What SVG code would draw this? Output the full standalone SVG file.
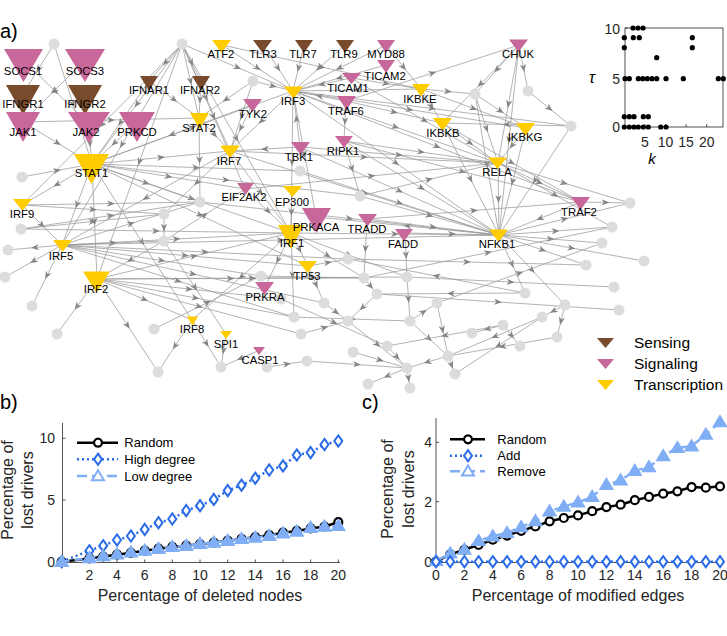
<svg xmlns="http://www.w3.org/2000/svg" width="727" height="636" viewBox="0 0 727 636">
<defs>
<style>
.e{fill:none;stroke:#9a9a9a;stroke-width:.75;marker-mid:url(#ah)}
.g{fill:#dcdcdc}
.se{fill:#784B2D}.si{fill:#C8679A}.tr{fill:#FFCC00}
text{font-family:"Liberation Sans",Arial,Helvetica,sans-serif}
.nl{font-size:11.3px;text-anchor:middle;fill:#000}
.ax{stroke:#262626;stroke-width:.8;fill:none}
.tk{font-size:14px;fill:#262626}
.lab{font-size:16px;fill:#262626;text-anchor:middle}
.lg{font-size:13px;fill:#000}
.pl{font-size:20px;fill:#000}
.lgd{font-size:15.5px;fill:#000}
.rnd{fill:none;stroke:#000;stroke-width:2.5;marker-start:url(#mo);marker-mid:url(#mo);marker-end:url(#mo)}
.hi{fill:none;stroke:#2A6CE8;stroke-width:2.5;stroke-dasharray:2 3;marker-start:url(#md);marker-mid:url(#md);marker-end:url(#md)}
.lo{fill:none;stroke:#80AEF5;stroke-width:2.5;stroke-dasharray:8 5;marker-start:url(#mt);marker-mid:url(#mt);marker-end:url(#mt)}
.dot{fill:#000}
</style>
<marker id="ah" viewBox="0 0 10 8" refX="5" refY="4" markerWidth="8" markerHeight="6.4" markerUnits="userSpaceOnUse" orient="auto"><path d="M0,0L10,4L0,8L3,4z" fill="#858585"/></marker>
<marker id="mo" viewBox="-7 -7 14 14" refX="0" refY="0" markerWidth="14" markerHeight="14" markerUnits="userSpaceOnUse" orient="0"><circle r="4" fill="#fff" stroke="#000" stroke-width="2.2"/></marker>
<marker id="md" viewBox="-8 -8 16 16" refX="0" refY="0" markerWidth="16" markerHeight="16" markerUnits="userSpaceOnUse" orient="0"><path d="M0,-5.6L4,0L0,5.6L-4,0Z" fill="#fff" stroke="#2A6CE8" stroke-width="2"/></marker>
<marker id="mt" viewBox="-8 -8 16 16" refX="0" refY="0" markerWidth="16" markerHeight="16" markerUnits="userSpaceOnUse" orient="0"><path d="M0,-5.8L6,4.2L-6,4.2Z" fill="#80AEF5" stroke="#80AEF5" stroke-width="2"/></marker>
<path id="lgo" d="M0,-4a4,4 0 1,0 0.01,0z" fill="#fff" stroke="#000" stroke-width="2.2"/>
</defs>
<rect width="727" height="636" fill="#fff"/>
<text class="pl" x="0" y="38">a)</text>

<g id="connectors">
<path class="e" d="M54 44L38.5 69L23 94"/>
<path class="e" d="M54 44L73 104L92 164"/>
<path class="e" d="M23 60L55.5 91.5L88 123"/>
<path class="e" d="M85 60L54 91L23 122"/>
<path class="e" d="M23 122L57.5 143L92 164"/>
<path class="e" d="M23 122L111 120L199 118"/>
<path class="e" d="M88 123L90 143.5L92 164"/>
<path class="e" d="M137 122L114.5 143L92 164"/>
<path class="e" d="M182 44L165.5 62.5L149 81"/>
<path class="e" d="M182 44L191.5 62.5L201 81"/>
<path class="e" d="M182 44L190.5 81L199 118"/>
<path class="e" d="M182 44L137 104L92 164"/>
<path class="e" d="M182 44L206 97.5L230 151"/>
<path class="e" d="M182 44L122 144.5L62 245"/>
<path class="e" d="M182 44L139.5 161.5L97 279"/>
<path class="e" d="M182 44L213.5 116.5L245 189"/>
<path class="e" d="M182 44L236.5 138.5L291 233"/>
<path class="e" d="M182 44L102 124.5L22 205"/>
<path class="e" d="M182 44L237.5 67.5L293 91"/>
<path class="e" d="M149 81L120.5 122.5L92 164"/>
<path class="e" d="M149 81L174 99.5L199 118"/>
<path class="e" d="M201 81L200 99.5L199 118"/>
<path class="e" d="M199 118L199.5 160L200 202"/>
<path class="e" d="M199 118L214.5 134.5L230 151"/>
<path class="e" d="M92 164L191.5 198.5L291 233"/>
<path class="e" d="M92 164L161 157.5L230 151"/>
<path class="e" d="M92 164L57 184.5L22 205"/>
<path class="e" d="M92 164L77 204.5L62 245"/>
<path class="e" d="M92 164L94.5 221.5L97 279"/>
<path class="e" d="M92 164L168.5 176.5L245 189"/>
<path class="e" d="M92 164L146 183L200 202"/>
<path class="e" d="M92 164L142 242L192 320"/>
<path class="e" d="M92 164L192.5 127.5L293 91"/>
<path class="e" d="M22 177L57 170.5L92 164"/>
<path class="e" d="M92 164L196 167.5L300 171"/>
<path class="e" d="M92 164L200 215L308 266"/>
<path class="e" d="M92 164L226 180L360 196"/>
<path class="e" d="M222 45L257.5 68L293 91"/>
<path class="e" d="M263 45L278 68L293 91"/>
<path class="e" d="M304 45L298.5 68L293 91"/>
<path class="e" d="M345 45L319 68L293 91"/>
<path class="e" d="M386 45L339.5 68L293 91"/>
<path class="e" d="M386 65L339.5 78L293 91"/>
<path class="e" d="M351 78L322 84.5L293 91"/>
<path class="e" d="M346 101L319.5 96L293 91"/>
<path class="e" d="M300 147L296.5 119L293 91"/>
<path class="e" d="M253 81L226 99.5L199 118"/>
<path class="e" d="M253 81L273 86L293 91"/>
<path class="e" d="M253 81L241.5 116L230 151"/>
<path class="e" d="M252 105L241 128L230 151"/>
<path class="e" d="M252 105L172 134.5L92 164"/>
<path class="e" d="M222 45L321.5 67L421 89"/>
<path class="e" d="M421 89L357 90L293 91"/>
<path class="e" d="M293 91L395.5 127L498 163"/>
<path class="e" d="M293 91L396 163L499 235"/>
<path class="e" d="M293 91L261.5 121L230 151"/>
<path class="e" d="M293 91L292 162L291 233"/>
<path class="e" d="M293 91L304.5 154L316 217"/>
<path class="e" d="M293 91L432 108.5L571 126"/>
<path class="e" d="M293 91L409.5 109.5L526 128"/>
<path class="e" d="M293 91L437 146.5L581 202"/>
<path class="e" d="M346 101L432.5 73L519 45"/>
<path class="e" d="M346 101L394 112L442 123"/>
<path class="e" d="M346 101L345 121L344 141"/>
<path class="e" d="M344 141L352 168.5L360 196"/>
<path class="e" d="M344 141L421 152L498 163"/>
<path class="e" d="M344 141L421.5 188L499 235"/>
<path class="e" d="M344 141L462.5 171.5L581 202"/>
<path class="e" d="M300 147L265 149L230 151"/>
<path class="e" d="M230 151L260.5 192L291 233"/>
<path class="e" d="M230 151L146 198L62 245"/>
<path class="e" d="M230 151L197 182.5L164 214"/>
<path class="e" d="M245 189L268 211L291 233"/>
<path class="e" d="M292 191L291.5 212L291 233"/>
<path class="e" d="M300 171L399.5 203L499 235"/>
<path class="e" d="M230 151L364 157L498 163"/>
<path class="e" d="M200 202L349.5 218.5L499 235"/>
<path class="e" d="M22 205L111 203.5L200 202"/>
<path class="e" d="M22 205L42 225L62 245"/>
<path class="e" d="M21 229L110.5 215.5L200 202"/>
<path class="e" d="M21 229L92.5 221.5L164 214"/>
<path class="e" d="M62 245L35 247.5L8 250"/>
<path class="e" d="M62 245L33.5 261L5 277"/>
<path class="e" d="M62 245L47 275.5L32 306"/>
<path class="e" d="M62 245L176.5 239L291 233"/>
<path class="e" d="M62 245L113 243L164 241"/>
<path class="e" d="M62 245L185 255.5L308 266"/>
<path class="e" d="M62 245L161.5 260.5L261 276"/>
<path class="e" d="M62 245L205 252L348 259"/>
<path class="e" d="M62 245L178 281L294 317"/>
<path class="e" d="M62 245L193 274L324 303"/>
<path class="e" d="M62 245L131 223.5L200 202"/>
<path class="e" d="M62 245L280.5 240L499 235"/>
<path class="e" d="M164 241L130.5 260L97 279"/>
<path class="e" d="M164 214L164 227.5L164 241"/>
<path class="e" d="M164 241L195 287.5L226 334"/>
<path class="e" d="M164 241L204.5 215L245 189"/>
<path class="e" d="M97 279L77 306.5L57 334"/>
<path class="e" d="M97 279L127.5 325.5L158 372"/>
<path class="e" d="M154 329L207.5 302.5L261 276"/>
<path class="e" d="M97 279L144.5 299.5L192 320"/>
<path class="e" d="M97 279L194 256L291 233"/>
<path class="e" d="M97 279L189 289L281 299"/>
<path class="e" d="M97 279L199 306.5L301 334"/>
<path class="e" d="M97 279L195.5 298L294 317"/>
<path class="e" d="M97 279L230.5 278.5L364 278"/>
<path class="e" d="M97 279L252 278L407 277"/>
<path class="e" d="M22 205L93 209.5L164 214"/>
<path class="e" d="M21 229L156 231L291 233"/>
<path class="e" d="M192 320L175 346L158 372"/>
<path class="e" d="M192 320L206.5 343.5L221 367"/>
<path class="e" d="M226 334L223.5 350.5L221 367"/>
<path class="e" d="M260 350L240.5 358.5L221 367"/>
<path class="e" d="M291 233L241.5 276.5L192 320"/>
<path class="e" d="M291 233L278 260L265 287"/>
<path class="e" d="M291 233L299.5 249.5L308 266"/>
<path class="e" d="M291 233L292.5 275L294 317"/>
<path class="e" d="M291 233L395 234L499 235"/>
<path class="e" d="M291 233L349 255L407 277"/>
<path class="e" d="M291 233L327.5 255.5L364 278"/>
<path class="e" d="M499 235L407.5 226L316 217"/>
<path class="e" d="M367 219L365.5 248.5L364 278"/>
<path class="e" d="M405 233L406 255L407 277"/>
<path class="e" d="M367 219L433 227L499 235"/>
<path class="e" d="M405 233L452 234L499 235"/>
<path class="e" d="M367 219L474 210.5L581 202"/>
<path class="e" d="M581 202L540 218.5L499 235"/>
<path class="e" d="M498 163L539.5 182.5L581 202"/>
<path class="e" d="M498 163L498.5 199L499 235"/>
<path class="e" d="M498 163L564 183L630 203"/>
<path class="e" d="M498 163L555 195L612 227"/>
<path class="e" d="M519 45L508.5 104L498 163"/>
<path class="e" d="M519 45L480.5 84L442 123"/>
<path class="e" d="M519 45L497 69.5L475 94"/>
<path class="e" d="M519 45L523.5 68L528 91"/>
<path class="e" d="M519 45L509 140L499 235"/>
<path class="e" d="M528 91L549.5 108.5L571 126"/>
<path class="e" d="M571 126L506.5 124.5L442 123"/>
<path class="e" d="M571 126L535 180.5L499 235"/>
<path class="e" d="M475 94L500.5 111L526 128"/>
<path class="e" d="M475 94L486.5 128.5L498 163"/>
<path class="e" d="M475 94L487 164.5L499 235"/>
<path class="e" d="M421 89L448 91.5L475 94"/>
<path class="e" d="M421 89L431.5 106L442 123"/>
<path class="e" d="M442 123L470 143L498 163"/>
<path class="e" d="M442 123L470.5 179L499 235"/>
<path class="e" d="M442 123L511.5 162.5L581 202"/>
<path class="e" d="M526 128L512 145.5L498 163"/>
<path class="e" d="M526 128L512.5 181.5L499 235"/>
<path class="e" d="M421 89L473.5 108.5L526 128"/>
<path class="e" d="M351 78L386 83.5L421 89"/>
<path class="e" d="M386 45L403.5 67L421 89"/>
<path class="e" d="M351 78L424.5 120.5L498 163"/>
<path class="e" d="M230 151L364.5 193L499 235"/>
<path class="e" d="M300 147L399.5 191L499 235"/>
<path class="e" d="M300 147L399 155L498 163"/>
<path class="e" d="M360 196L429.5 215.5L499 235"/>
<path class="e" d="M360 196L429 179.5L498 163"/>
<path class="e" d="M245 189L371.5 176L498 163"/>
<path class="e" d="M581 202L605.5 202.5L630 203"/>
<path class="e" d="M499 235L564.5 219L630 203"/>
<path class="e" d="M499 235L555.5 231L612 227"/>
<path class="e" d="M499 235L550.5 239L602 243"/>
<path class="e" d="M499 235L571.5 248L644 261"/>
<path class="e" d="M499 235L542.5 250L586 265"/>
<path class="e" d="M499 235L532 270L565 305"/>
<path class="e" d="M499 235L512 264L525 293"/>
<path class="e" d="M525 293L436.5 276L348 259"/>
<path class="e" d="M348 259L467 262L586 265"/>
<path class="e" d="M407 277L510.5 282L614 287"/>
<path class="e" d="M377 294L498 302L619 310"/>
<path class="e" d="M437 303L519.5 273L602 243"/>
<path class="e" d="M364 278L488 252.5L612 227"/>
<path class="e" d="M565 305L553.5 311L542 317"/>
<path class="e" d="M565 305L561 321L557 337"/>
<path class="e" d="M542 317L495 336.5L448 356"/>
<path class="e" d="M503 325L487.5 329L472 333"/>
<path class="e" d="M503 325L511.5 335.5L520 346"/>
<path class="e" d="M557 337L502.5 346.5L448 356"/>
<path class="e" d="M448 356L451.5 365L455 374"/>
<path class="e" d="M437 303L442.5 329.5L448 356"/>
<path class="e" d="M410 321L429 338.5L448 356"/>
<path class="e" d="M407 368L387.5 376L368 384"/>
<path class="e" d="M407 368L408.5 378L410 388"/>
<path class="e" d="M387 346L397 357L407 368"/>
<path class="e" d="M353 352L380 360L407 368"/>
<path class="e" d="M448 356L427.5 362L407 368"/>
<path class="e" d="M307 361L357 364.5L407 368"/>
<path class="e" d="M301 334L324.5 327.5L348 321"/>
<path class="e" d="M294 317L352 319L410 321"/>
<path class="e" d="M324 303L336 312L348 321"/>
<path class="e" d="M281 299L334 322.5L387 346"/>
<path class="e" d="M348 321L377.5 344.5L407 368"/>
<path class="e" d="M377 294L362.5 307.5L348 321"/>
<path class="e" d="M410 321L423.5 312L437 303"/>
<path class="e" d="M364 278L370.5 286L377 294"/>
<path class="e" d="M407 277L408.5 299L410 321"/>
<path class="e" d="M308 266L316 284.5L324 303"/>
<path class="e" d="M308 266L328 262.5L348 259"/>
<path class="e" d="M261 276L312.5 277L364 278"/>
<path class="e" d="M267 367L287 364L307 361"/>
<path class="e" d="M542 317L498.5 345.5L455 374"/>
<path class="e" d="M503 325L445 335.5L387 346"/>
<path class="e" d="M525 293L451 293.5L377 294"/>
</g>

<g id="n_g1"><circle class="g" cx="54" cy="44" r="5.5"/></g>
<g id="n_g2"><circle class="g" cx="182" cy="44" r="5.5"/></g>
<g id="n_g3"><circle class="g" cx="22" cy="177" r="5.5"/></g>
<g id="n_g4"><circle class="g" cx="253" cy="81" r="5.5"/></g>
<g id="n_g5"><circle class="g" cx="300" cy="171" r="5.5"/></g>
<g id="n_g6"><circle class="g" cx="360" cy="196" r="5.5"/></g>
<g id="n_g7"><circle class="g" cx="475" cy="94" r="5.5"/></g>
<g id="n_g8"><circle class="g" cx="528" cy="91" r="5.5"/></g>
<g id="n_g9"><circle class="g" cx="571" cy="126" r="5.5"/></g>
<g id="n_g10"><circle class="g" cx="200" cy="202" r="5.5"/></g>
<g id="n_g11"><circle class="g" cx="164" cy="214" r="5.5"/></g>
<g id="n_g12"><circle class="g" cx="21" cy="229" r="5.5"/></g>
<g id="n_g13"><circle class="g" cx="164" cy="241" r="5.5"/></g>
<g id="n_g14"><circle class="g" cx="8" cy="250" r="5.5"/></g>
<g id="n_g15"><circle class="g" cx="5" cy="277" r="5.5"/></g>
<g id="n_g16"><circle class="g" cx="32" cy="306" r="5.5"/></g>
<g id="n_g17"><circle class="g" cx="57" cy="334" r="5.5"/></g>
<g id="n_g18"><circle class="g" cx="154" cy="329" r="5.5"/></g>
<g id="n_g19"><circle class="g" cx="158" cy="372" r="5.5"/></g>
<g id="n_g20"><circle class="g" cx="221" cy="367" r="5.5"/></g>
<g id="n_g21"><circle class="g" cx="348" cy="259" r="5.5"/></g>
<g id="n_g22"><circle class="g" cx="364" cy="278" r="5.5"/></g>
<g id="n_g23"><circle class="g" cx="407" cy="277" r="5.5"/></g>
<g id="n_g24"><circle class="g" cx="377" cy="294" r="5.5"/></g>
<g id="n_g25"><circle class="g" cx="261" cy="276" r="5.5"/></g>
<g id="n_g26"><circle class="g" cx="281" cy="299" r="5.5"/></g>
<g id="n_g27"><circle class="g" cx="324" cy="303" r="5.5"/></g>
<g id="n_g28"><circle class="g" cx="294" cy="317" r="5.5"/></g>
<g id="n_g29"><circle class="g" cx="348" cy="321" r="5.5"/></g>
<g id="n_g30"><circle class="g" cx="437" cy="303" r="5.5"/></g>
<g id="n_g31"><circle class="g" cx="410" cy="321" r="5.5"/></g>
<g id="n_g32"><circle class="g" cx="301" cy="334" r="5.5"/></g>
<g id="n_g33"><circle class="g" cx="387" cy="346" r="5.5"/></g>
<g id="n_g34"><circle class="g" cx="353" cy="352" r="5.5"/></g>
<g id="n_g35"><circle class="g" cx="307" cy="361" r="5.5"/></g>
<g id="n_g36"><circle class="g" cx="267" cy="367" r="5.5"/></g>
<g id="n_g37"><circle class="g" cx="407" cy="368" r="5.5"/></g>
<g id="n_g38"><circle class="g" cx="448" cy="356" r="5.5"/></g>
<g id="n_g39"><circle class="g" cx="455" cy="374" r="5.5"/></g>
<g id="n_g40"><circle class="g" cx="630" cy="203" r="5.5"/></g>
<g id="n_g41"><circle class="g" cx="612" cy="227" r="5.5"/></g>
<g id="n_g42"><circle class="g" cx="602" cy="243" r="5.5"/></g>
<g id="n_g43"><circle class="g" cx="644" cy="261" r="5.5"/></g>
<g id="n_g44"><circle class="g" cx="586" cy="265" r="5.5"/></g>
<g id="n_g45"><circle class="g" cx="614" cy="287" r="5.5"/></g>
<g id="n_g46"><circle class="g" cx="525" cy="293" r="5.5"/></g>
<g id="n_g47"><circle class="g" cx="619" cy="310" r="5.5"/></g>
<g id="n_g48"><circle class="g" cx="565" cy="305" r="5.5"/></g>
<g id="n_g49"><circle class="g" cx="542" cy="317" r="5.5"/></g>
<g id="n_g50"><circle class="g" cx="503" cy="325" r="5.5"/></g>
<g id="n_g51"><circle class="g" cx="472" cy="333" r="5.5"/></g>
<g id="n_g52"><circle class="g" cx="557" cy="337" r="5.5"/></g>
<g id="n_g53"><circle class="g" cx="520" cy="346" r="5.5"/></g>
<g id="n_g54"><circle class="g" cx="368" cy="384" r="5.5"/></g>
<g id="n_g55"><circle class="g" cx="410" cy="388" r="5.5"/></g>

<g id="SOCS1"><polygon class="si" points="4,49 43,49 23.5,82"/><text class="nl" x="23" y="75">SOCS1</text></g>
<g id="SOCS3"><polygon class="si" points="65,49 105,49 85,82"/><text class="nl" x="85" y="75">SOCS3</text></g>
<g id="IFNGR1"><polygon class="se" points="6,85 40,85 23,115"/><text class="nl" x="23" y="108">IFNGR1</text></g>
<g id="IFNGR2"><polygon class="se" points="68,85 102,85 85,115"/><text class="nl" x="85" y="108">IFNGR2</text></g>
<g id="JAK1"><polygon class="si" points="6,112 40,112 23,142"/><text class="nl" x="23" y="135.5">JAK1</text></g>
<g id="JAK2"><polygon class="si" points="68,112 110,112 89,143"/><text class="nl" x="86" y="135.5">JAK2</text></g>
<g id="PRKCD"><polygon class="si" points="119,112 155,112 137,142"/><text class="nl" x="137" y="135.5">PRKCD</text></g>
<g id="STAT1"><polygon class="tr" points="74,154 109,154 91.5,184"/><text class="nl" x="91.5" y="177">STAT1</text></g>
<g id="IFNAR1"><polygon class="se" points="140,76 158,76 149,91"/><text class="nl" x="149" y="94">IFNAR1</text></g>
<g id="IFNAR2"><polygon class="se" points="192,76 210,76 201,91"/><text class="nl" x="200" y="94">IFNAR2</text></g>
<g id="STAT2"><polygon class="tr" points="190,113 209,113 199.5,129"/><text class="nl" x="199" y="131.5">STAT2</text></g>
<g id="ATF2"><polygon class="tr" points="212,40 231,40 221.5,53"/><text class="nl" x="221" y="58">ATF2</text></g>
<g id="TLR3"><polygon class="se" points="253,40 272,40 262.5,53"/><text class="nl" x="263" y="58">TLR3</text></g>
<g id="TLR7"><polygon class="se" points="295,40 313,40 304,53"/><text class="nl" x="303" y="58">TLR7</text></g>
<g id="TLR9"><polygon class="se" points="336,40 354,40 345,53"/><text class="nl" x="344" y="58">TLR9</text></g>
<g id="MYD88"><polygon class="si" points="377,40 395,40 386,53"/><text class="nl" x="386" y="58">MYD88</text></g>
<g id="TICAM2"><polygon class="si" points="377,60 395,60 386,73"/><text class="nl" x="385" y="79.5">TICAM2</text></g>
<g id="TICAM1"><polygon class="si" points="342,73 361,73 351.5,84"/><text class="nl" x="348" y="92">TICAM1</text></g>
<g id="IRF3"><polygon class="tr" points="284,86.5 303,86.5 293.5,99"/><text class="nl" x="293" y="105">IRF3</text></g>
<g id="TYK2"><polygon class="si" points="243,99 262,99 252.5,112"/><text class="nl" x="253" y="118">TYK2</text></g>
<g id="TRAF6"><polygon class="si" points="337,96 356,96 346.5,110"/><text class="nl" x="346" y="115">TRAF6</text></g>
<g id="IRF7"><polygon class="tr" points="220,145.5 240,145.5 230,158"/><text class="nl" x="229" y="164.5">IRF7</text></g>
<g id="TBK1"><polygon class="si" points="291,142 310,142 300.5,155"/><text class="nl" x="299" y="160.5">TBK1</text></g>
<g id="RIPK1"><polygon class="si" points="335,136 353,136 344,148"/><text class="nl" x="343" y="155">RIPK1</text></g>
<g id="EIF2AK2"><polygon class="si" points="237,183 254,183 245.5,195"/><text class="nl" x="244" y="201">EIF2AK2</text></g>
<g id="EP300"><polygon class="tr" points="283,186 302,186 292.5,197"/><text class="nl" x="292" y="205.5">EP300</text></g>
<g id="IRF1"><polygon class="tr" points="278,225 304,225 291,249"/><text class="nl" x="292" y="247">IRF1</text></g>
<g id="PRKACA"><polygon class="si" points="302,208 331,208 316.5,233"/><text class="nl" x="316" y="230.5">PRKACA</text></g>
<g id="TRADD"><polygon class="si" points="358,214 377,214 367.5,226.5"/><text class="nl" x="367" y="233">TRADD</text></g>
<g id="FADD"><polygon class="si" points="395,229 413,229 404,241.5"/><text class="nl" x="403" y="248">FADD</text></g>
<g id="TP53"><polygon class="tr" points="298,261 317,261 307.5,273"/><text class="nl" x="307" y="280">TP53</text></g>
<g id="PRKRA"><polygon class="si" points="255,282 274,282 264.5,295"/><text class="nl" x="265" y="301">PRKRA</text></g>
<g id="IRF8"><polygon class="tr" points="187,316.5 198,316.5 192.5,326"/><text class="nl" x="192" y="333">IRF8</text></g>
<g id="SPI1"><polygon class="tr" points="220,331 232,331 226,339"/><text class="nl" x="226" y="348">SPI1</text></g>
<g id="CASP1"><polygon class="si" points="253,347 265,347 259,355"/><text class="nl" x="260" y="364">CASP1</text></g>
<g id="IRF9"><polygon class="tr" points="13,199 32,199 22.5,211"/><text class="nl" x="22" y="218">IRF9</text></g>
<g id="IRF5"><polygon class="tr" points="53,240 72,240 62.5,252"/><text class="nl" x="61" y="259.5">IRF5</text></g>
<g id="IRF2"><polygon class="tr" points="83,271.5 110,271.5 96.5,293"/><text class="nl" x="96" y="293">IRF2</text></g>
<g id="CHUK"><polygon class="si" points="509,39.5 528,39.5 518.5,52"/><text class="nl" x="518" y="58">CHUK</text></g>
<g id="IKBKE"><polygon class="tr" points="412,84 430,84 421,96.5"/><text class="nl" x="420" y="103">IKBKE</text></g>
<g id="IKBKB"><polygon class="tr" points="433,118 452,118 442.5,131"/><text class="nl" x="443" y="137">IKBKB</text></g>
<g id="IKBKG"><polygon class="tr" points="516,123 535,123 525.5,136"/><text class="nl" x="525" y="141">IKBKG</text></g>
<g id="RELA"><polygon class="tr" points="488,157.5 507,157.5 497.5,169"/><text class="nl" x="497" y="176">RELA</text></g>
<g id="TRAF2"><polygon class="si" points="571,197 590,197 580.5,210"/><text class="nl" x="579" y="216">TRAF2</text></g>
<g id="NFKB1"><polygon class="tr" points="489,229.5 508,229.5 498.5,242"/><text class="nl" x="497" y="248">NFKB1</text></g>

<g id="legend">
<polygon class="se" points="597,338 614,338 605.5,348"/>
<polygon class="si" points="597,359 614,359 605.5,369"/>
<polygon class="tr" points="597,380 614,380 605.5,390"/>
<text class="lgd" x="634" y="348">Sensing</text>
<text class="lgd" x="634" y="369">Signaling</text>
<text class="lgd" x="634" y="390">Transcription</text>
</g>

<g id="inset">
<rect class="ax" x="625" y="28" width="98" height="99"/>
<path class="ax" d="M625 78.7h3M625 28h3M644.9 127v-3M665.5 127v-3M686.1 127v-3M706.7 127v-3"/>
<text class="tk" x="620" y="34" text-anchor="end">10</text>
<text class="tk" x="620" y="84" text-anchor="end">5</text>
<text class="tk" x="620" y="132" text-anchor="end">0</text>
<text class="tk" x="645" y="147" text-anchor="middle">5</text>
<text class="tk" x="665.5" y="147" text-anchor="middle">10</text>
<text class="tk" x="686" y="147" text-anchor="middle">15</text>
<text class="tk" x="706.7" y="147" text-anchor="middle">20</text>
<text x="592" y="83" font-family="Liberation Serif,serif" font-style="italic" font-size="16" text-anchor="middle">τ</text>
<text x="652" y="164" font-family="Liberation Serif,serif" font-style="italic" font-size="15" text-anchor="middle">k</text>
<g class="dot">
<circle cx="633" cy="28" r="2.6"/><circle cx="638" cy="28" r="2.6"/><circle cx="643" cy="28" r="2.6"/>
<circle cx="624.3" cy="37.7" r="2.6"/><circle cx="633.3" cy="37.7" r="2.6"/><circle cx="639.3" cy="37.7" r="2.6"/><circle cx="692.3" cy="37.7" r="2.6"/>
<circle cx="624.3" cy="47.7" r="2.6"/><circle cx="692.3" cy="47.7" r="2.6"/>
<circle cx="656.7" cy="57.7" r="2.6"/>
<circle cx="625" cy="78.7" r="2.6"/><circle cx="629.3" cy="78.7" r="2.6"/><circle cx="638.3" cy="78.7" r="2.6"/><circle cx="642.7" cy="78.7" r="2.6"/><circle cx="647.3" cy="78.7" r="2.6"/><circle cx="652" cy="78.7" r="2.6"/><circle cx="656.7" cy="78.7" r="2.6"/><circle cx="666" cy="78.7" r="2.6"/><circle cx="683.3" cy="78.7" r="2.6"/><circle cx="718.3" cy="78.7" r="2.6"/><circle cx="723.3" cy="78.7" r="2.6"/>
<circle cx="624.3" cy="116.7" r="2.6"/><circle cx="629.3" cy="116.7" r="2.6"/><circle cx="634" cy="116.7" r="2.6"/><circle cx="643.3" cy="116.7" r="2.6"/><circle cx="648.3" cy="116.7" r="2.6"/>
<circle cx="624.3" cy="127" r="2.6"/><circle cx="629.3" cy="127" r="2.6"/><circle cx="634" cy="127" r="2.6"/><circle cx="638.3" cy="127" r="2.6"/><circle cx="643.3" cy="127" r="2.6"/><circle cx="648.3" cy="127" r="2.6"/><circle cx="660.7" cy="127" r="2.6"/><circle cx="666" cy="127" r="2.6"/>
</g>
</g>

<g id="plot_b">
<text class="pl" x="0" y="409">b)</text>
<path class="ax" d="M62.5 423V562.5H340"/>
<path class="ax" d="M62.5 500H65.5M62.5 438.3H65.5M89.4 562.5v-3M117 562.5v-3M144.7 562.5v-3M172.3 562.5v-3M200 562.5v-3M227.7 562.5v-3M255.3 562.5v-3M283 562.5v-3M310.6 562.5v-3M338.3 562.5v-3"/>
<g class="tk" text-anchor="end"><text x="55" y="443.3">10</text><text x="55" y="505">5</text><text x="55" y="566.7">0</text></g>
<g class="tk" text-anchor="middle"><text x="89.4" y="580">2</text><text x="117" y="580">4</text><text x="144.7" y="580">6</text><text x="172.3" y="580">8</text><text x="200" y="580">10</text><text x="227.7" y="580">12</text><text x="255.3" y="580">14</text><text x="283" y="580">16</text><text x="310.6" y="580">18</text><text x="338.3" y="580">20</text></g>
<text class="lab" x="200" y="601">Percentage of deleted nodes</text>
<text class="lab" transform="translate(13,490) rotate(-90)">Percentage of</text>
<text class="lab" transform="translate(33,490) rotate(-90)">lost drivers</text>
<polyline class="rnd" points="61.7,561.7 89.4,558.4 103.2,556.5 117,554.7 130.9,552.8 144.7,550.7 158.5,548.7 172.3,546.9 186.2,545.7 200,544.1 213.8,542.6 227.7,540.7 241.5,538.9 255.3,537 269.2,535.2 283,532.7 296.8,530.9 310.6,528.4 324.5,526.5 338.3,522.2"/>
<polyline class="hi" points="61.7,561.7 89.4,550.7 103.2,545.7 117,540 130.9,536 144.7,529.4 158.5,522.7 172.3,519 186.2,510.6 200,505.7 213.8,499.4 227.7,490.6 241.5,485.2 255.3,478.3 269.2,470 283,465.9 296.8,455 310.6,452.6 324.5,444.5 338.3,441"/>
<polyline class="lo" points="61.7,561.7 89.4,558 103.2,556.1 117,554.3 130.9,552.4 144.7,550.6 158.5,548.7 172.3,546.9 186.2,545.7 200,543.8 213.8,542.6 227.7,540.7 241.5,538.9 255.3,537.6 269.2,535.8 283,533.3 296.8,531.5 310.6,527.8 324.5,526.5 338.3,525.9"/>
<path d="M77 442.7H118" stroke="#000" stroke-width="2.5"/><use href="#lgo" x="98" y="442.7"/>
<path d="M77 459.3H118" stroke="#2A6CE8" stroke-width="2.5" stroke-dasharray="2 3"/><path d="M98,453.7L102,459.3L98,464.9L94,459.3Z" fill="#fff" stroke="#2A6CE8" stroke-width="2"/>
<path d="M77 476H118" stroke="#80AEF5" stroke-width="2.5" stroke-dasharray="10 5"/><path d="M98,470.2L104,480.2L92,480.2Z" fill="#fff" stroke="#80AEF5" stroke-width="2"/>
<text class="lg" x="124.3" y="447.2">Random</text>
<text class="lg" x="124.3" y="463.8">High degree</text>
<text class="lg" x="124.3" y="480.5">Low degree</text>
</g>

<g id="plot_c">
<text class="pl" x="362" y="409">c)</text>
<path class="ax" d="M436 418V562.5H722"/>
<path class="ax" d="M436 442.3H439M436 501.7H439M450.2 562.5v-3M464.4 562.5v-3M478.6 562.5v-3M492.8 562.5v-3M507 562.5v-3M521.2 562.5v-3M535.4 562.5v-3M549.6 562.5v-3M563.8 562.5v-3M578 562.5v-3M592.2 562.5v-3M606.4 562.5v-3M620.6 562.5v-3M634.8 562.5v-3M649 562.5v-3M663.2 562.5v-3M677.4 562.5v-3M691.6 562.5v-3M705.8 562.5v-3"/>
<g class="tk" text-anchor="end"><text x="432" y="447.3">4</text><text x="432" y="506.7">2</text><text x="432" y="566.7">0</text></g>
<g class="tk" text-anchor="middle"><text x="436" y="580">0</text><text x="464.4" y="580">2</text><text x="492.8" y="580">4</text><text x="521.2" y="580">6</text><text x="549.6" y="580">8</text><text x="578" y="580">10</text><text x="606.4" y="580">12</text><text x="634.8" y="580">14</text><text x="663.2" y="580">16</text><text x="691.6" y="580">18</text><text x="720" y="580">20</text></g>
<text class="lab" x="578" y="601">Percentage of modified edges</text>
<text class="lab" transform="translate(393,489) rotate(-90)">Percentage of</text>
<text class="lab" transform="translate(414,489) rotate(-90)">lost drivers</text>
<polyline class="rnd" points="436,561.7 450.2,554.3 464.4,549.8 478.6,544.8 492.8,539.7 507,535.6 521.2,530.8 535.4,526.4 549.6,521.3 563.8,518 578,515.4 592.2,511.2 606.4,507.1 620.6,504.7 634.8,500.2 649,496.9 663.2,493.7 677.4,491.3 691.6,487.1 705.8,487.7 720,486.3"/>
<polyline class="lo" points="436,560.8 450.2,553.4 464.4,549.5 478.6,540.9 492.8,536.2 507,532.9 521.2,527 535.4,521 549.6,511.2 563.8,506.5 578,502.3 592.2,496.7 606.4,484.8 620.6,480.3 634.8,470.8 649,467 663.2,456 677.4,447.9 691.6,446.2 705.8,434.6 720,422.1"/>
<polyline class="hi" points="436,561.7 450.2,561.7 464.4,561.7 478.6,561.7 492.8,561.7 507,561.7 521.2,561.7 535.4,561.7 549.6,561.7 563.8,561.7 578,561.7 592.2,561.7 606.4,561.7 620.6,561.7 634.8,561.7 649,561.7 663.2,561.7 677.4,561.7 691.6,561.7 705.8,561.7 720,561.7"/>
<path d="M450 439.3H485" stroke="#000" stroke-width="2.5"/><use href="#lgo" x="468" y="439.3"/>
<path d="M450 455.7H485" stroke="#2A6CE8" stroke-width="2.5" stroke-dasharray="2 3"/><path d="M468,450.1L472,455.7L468,461.3L464,455.7Z" fill="#fff" stroke="#2A6CE8" stroke-width="2"/>
<path d="M450 471.3H485" stroke="#80AEF5" stroke-width="2.5" stroke-dasharray="10 5"/><path d="M468,465.5L474,475.5L462,475.5Z" fill="#fff" stroke="#80AEF5" stroke-width="2"/>
<text class="lg" x="497.3" y="443.8">Random</text>
<text class="lg" x="497.3" y="460.2">Add</text>
<text class="lg" x="497.3" y="475.8">Remove</text>
</g>
</svg>
